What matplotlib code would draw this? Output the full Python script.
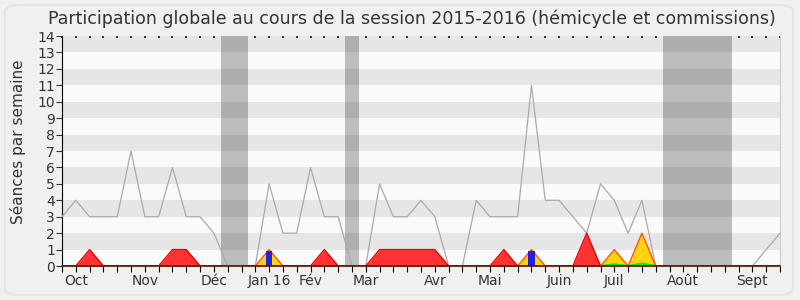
import matplotlib
matplotlib.use('Agg')
import matplotlib.pyplot as plt
from matplotlib.patches import FancyBboxPatch

# une valeur par semaine, d'octobre 2015 a septembre 2016
weeks = list(range(53))
total = [3, 4, 3, 3, 3, 7, 3, 3, 6, 3,
         3, 2, 0, 0, 0, 5, 2, 2, 6, 3,
         3, 0, 0, 5, 3, 3, 4, 3, 0, 0,
         4, 3, 3, 3, 11, 4, 4, 3, 2, 5,
         4, 2, 4, 0, 0, 0, 0, 0, 0, 0,
         0, 1, 2]
hemicycle = [0] * 53
for i, v in [(2, 1), (8, 1), (9, 1), (19, 1), (23, 1), (24, 1), (25, 1),
             (26, 1), (27, 1), (32, 1), (38, 2)]:
    hemicycle[i] = v
commission = [0] * 53
for i, v in [(15, 1), (34, 1), (40, 1), (42, 2)]:
    commission[i] = v
interventions = [0] * 53
for i, v in [(40, 0.1), (42, 0.15)]:
    interventions[i] = v
questions = [0] * 53
for i, v in [(15, 0.9), (34, 0.9)]:
    questions[i] = v

vacances = [(11.5, 13.5), (20.5, 21.5), (43.5, 48.5)]
month_labels = ['Oct', 'Nov', 'Déc', 'Jan 16', 'Fév', 'Mar', 'Avr', 'Mai',
                'Juin', 'Juil', 'Août', 'Sept']
month_weeks = [1, 6, 11, 15, 18, 22, 27, 31, 36, 40, 45, 50]

fig = plt.figure(figsize=(8, 3), dpi=100, facecolor='#f0f0f0')
fig.patches.append(FancyBboxPatch((0.00625, 0.0167), 0.985, 0.967,
                                  boxstyle='round,pad=0,rounding_size=0.02',
                                  transform=fig.transFigure, facecolor='none',
                                  edgecolor='#e4e4e4', linewidth=1.5))
ax = fig.add_axes([0.0775, 0.1133, 0.8975, 0.7667])
ax.set_facecolor('#fafafa')

# bandes horizontales
for y in range(1, 14, 2):
    ax.axhspan(y, y + 1, color='black', alpha=0.08, lw=0, zorder=1)
for a, b in vacances:
    ax.axvspan(a, b, color='#bdbdbd', lw=0, zorder=0.5)

ax.plot(weeks, total, color='#aaaaaa', lw=0.9, zorder=3)
ax.fill_between(weeks, hemicycle, color='#ff3333', lw=0, zorder=4)
ax.plot(weeks, hemicycle, color='#ee0000', lw=1, zorder=4)
ax.fill_between(weeks, commission, color='#ffd30f', lw=0, zorder=5)
ax.plot(weeks, commission, color='#ff5500', lw=1, zorder=5)
ax.plot(weeks, interventions, color='#00ee00', lw=1.5, zorder=6)
ax.bar(weeks, questions, width=0.45, color='#2222dd', zorder=7)

ax.set_xlim(0, 52)
ax.set_ylim(0, 14)
ax.set_yticks(range(15))
ax.tick_params(axis='y', labelsize=10, length=4, pad=1, colors='#333333')
xlabels = [''] * 53
for w, m in zip(month_weeks, month_labels):
    xlabels[w] = m
ax.set_xticks(weeks)
ax.set_xticklabels(xlabels, fontsize=10, color='#333333')
ax.tick_params(axis='x', length=4, pad=2)

top = ax.secondary_xaxis('top')
top.set_xticks(weeks)
top.tick_params(direction='in', length=1.2, width=1.1, labeltop=False)
top.spines['top'].set_visible(False)

ax.spines['top'].set_visible(False)
ax.spines['right'].set_color('#cccccc')
ax.spines['right'].set_linewidth(0.8)
ax.spines['bottom'].set_color('#5a1000')
ax.spines['bottom'].set_linewidth(1.2)
ax.spines['bottom'].set_zorder(8)

ax.set_ylabel('Séances par semaine', fontsize=11, color='#333333')
ax.yaxis.set_label_coords(-0.05, 0.54)
fig.suptitle('Participation globale au cours de la session 2015-2016 (hémicycle et commissions)',
             fontsize=12.5, color='#333333', x=0.515, y=0.97)

fig.savefig('out.png', dpi=100, facecolor=fig.get_facecolor())
